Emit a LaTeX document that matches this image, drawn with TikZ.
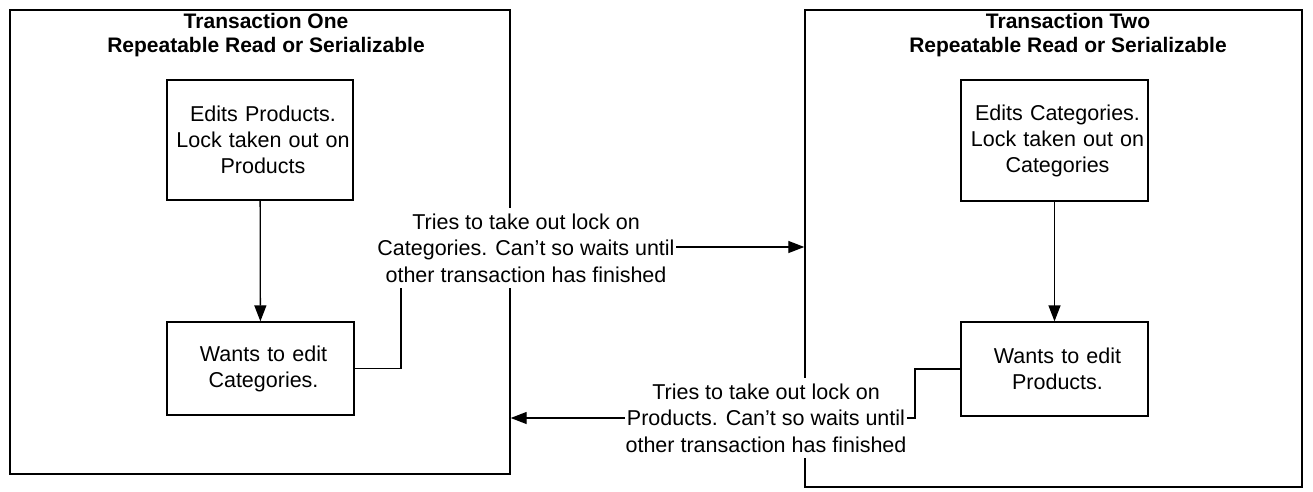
\documentclass[tikz,border=0pt]{standalone}
\usepackage{fontspec}
\setmainfont{Liberation Sans}
\usetikzlibrary{arrows.meta}
\begin{document}
\begin{tikzpicture}[x=1pt,y=-1pt,
  box/.style={draw, line width=1.4pt, inner sep=0pt},
  inbox/.style={draw, line width=1.3pt, align=center, font=\fontsize{21.5}{26}\selectfont, inner sep=0pt},
  ttl/.style={align=center, font=\fontsize{21}{24.5}\selectfont\bfseries},
  lbl/.style={fill=white, align=center, font=\fontsize{21.5}{26.5}\selectfont, inner xsep=1pt, inner ysep=6pt},
  conn/.style={line width=1.3pt},
  arr/.style={conn, -{Triangle[length=16pt,width=12pt]}}]
\useasboundingbox (0,0) rectangle (1313,492);
\node[box, minimum width=500pt, minimum height=464pt] (t1) at (260,242) {};
\node[box, minimum width=497pt, minimum height=477pt] (t2) at (1053.5,248.5) {};
\node[ttl] (h1) at (266,35) {Transaction One\\Repeatable Read or Serializable};
\node[ttl] (h2) at (1068,35) {Transaction Two\\Repeatable Read or Serializable};
\node[inbox, minimum width=186pt, minimum height=120pt, text width=186pt] (a1) at (260,140) {\hspace*{6pt}Edits Products.\\\hspace*{6pt}Lock taken out on\\\hspace*{6pt}Products};
\node[inbox, minimum width=187pt, minimum height=93pt, text width=187pt] (a2) at (260.5,368.5) {\hspace*{6pt}Wants to edit\\\hspace*{6pt}Categories.};
\node[inbox, minimum width=187pt, minimum height=121pt, text width=187pt] (b1) at (1054.5,140.5) {\hspace*{6pt}Edits Categories.\\\hspace*{6pt}Lock taken out on\\\hspace*{6pt}Categories};
\node[inbox, minimum width=187pt, minimum height=94pt, text width=187pt] (b2) at (1054.5,369) {\hspace*{6pt}Wants to edit\\\hspace*{6pt}Products.};
\draw[arr] (a1) -- (a2);
\draw[arr] (b1) -- (b2);
\coordinate (k1) at (401,247);
\coordinate (k2) at (915,418);
\draw[arr] (a2.east) -| (k1) -- (k1 -| t2.west);
\draw[arr] (b2.west) -| (k2) -- (k2 -| t1.east);
\node[lbl] (l1) at (526,248) {Tries to take out lock on\\Categories. Can't so waits until\\other transaction has finished};
\node[lbl] (l2) at (766,418) {Tries to take out lock on\\Products. Can't so waits until\\other transaction has finished};
\end{tikzpicture}
\end{document}
